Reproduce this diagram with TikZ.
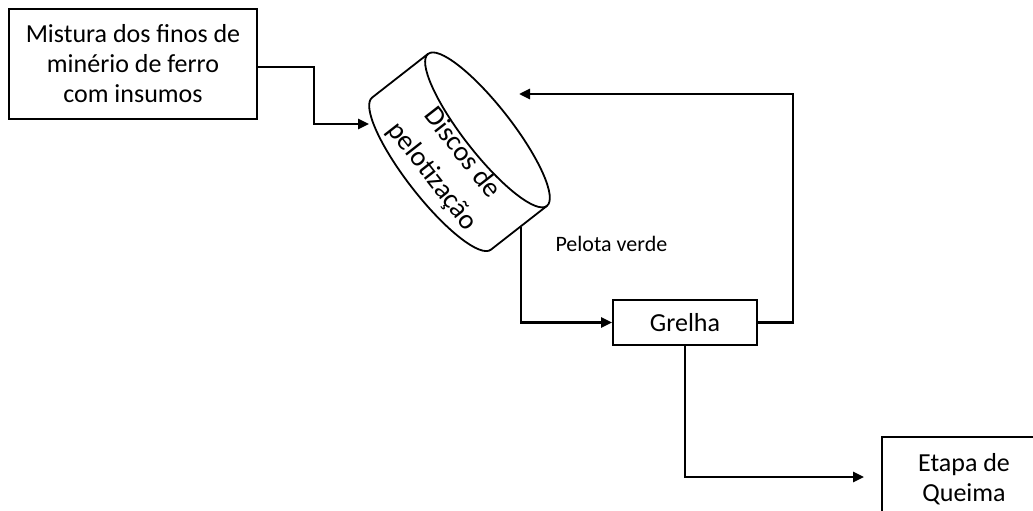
\documentclass[tikz,border=0pt]{standalone}
\usepackage{fontspec}
\setmainfont{Carlito}
\usetikzlibrary{arrows.meta}

\tikzset{
  x=1pt, y=1pt,
  procbox/.style={draw, line width=2pt, align=center, inner sep=0pt,
    font=\fontsize{26}{30}\selectfont},
  conn/.style={line width=2.6pt, -{Triangle[length=11pt,width=10pt]}},
  cylline/.style={line width=1.8pt, line join=round},
}

\begin{document}
\begin{tikzpicture}
\useasboundingbox (0,0) rectangle (1033,-511);

% process boxes
\node[procbox, minimum width=248pt, minimum height=110pt] (mist) at (133,-64)
  {Mistura dos finos de\\minério de ferro\\com insumos};
\node[procbox, minimum width=144pt, minimum height=45pt] (grelha) at (685,-322.5)
  {Grelha};
\node[procbox, minimum width=164pt, minimum height=84pt] (etapa) at (964,-479)
  {Etapa de\\Queima};

% pelletizing disc drawn as a tilted cylinder
\begin{scope}[shift={(459.5,-151.75)}, rotate=38]
  \draw[cylline] (35.5,96.5) -- (-35.5,96.5)
    arc[start angle=90, end angle=270, x radius=24, y radius=96.5]
    -- (35.5,-96.5);
  \draw[cylline] (35.5,0) ellipse[x radius=24, y radius=96.5];
\end{scope}
\node[rotate=-52, align=center, font=\fontsize{28}{38}\selectfont] (disco) at (447,-165)
  {Discos de\\pelotização};

% attachment points on the cylinder outline
\coordinate (cylIn) at (369,-124);
\coordinate (cylOut) at (521,-226.5);
\coordinate (backTip) at (519,-94);

% flow connectors
\draw[conn] ([yshift=-3pt]mist.east) -- ++(56,0) |- (cylIn);
\draw[conn] (cylOut) |- (grelha.west);
\draw[conn] (grelha.east) -- ++(35,0) |- (backTip);
\draw[conn] (grelha.south) |- ([xshift=-17pt,yshift=2pt]etapa.west);

\node[anchor=base west, font=\fontsize{22}{26}\selectfont] (pelota) at (552,-251)
  {Pelota verde};
\end{tikzpicture}
\end{document}
